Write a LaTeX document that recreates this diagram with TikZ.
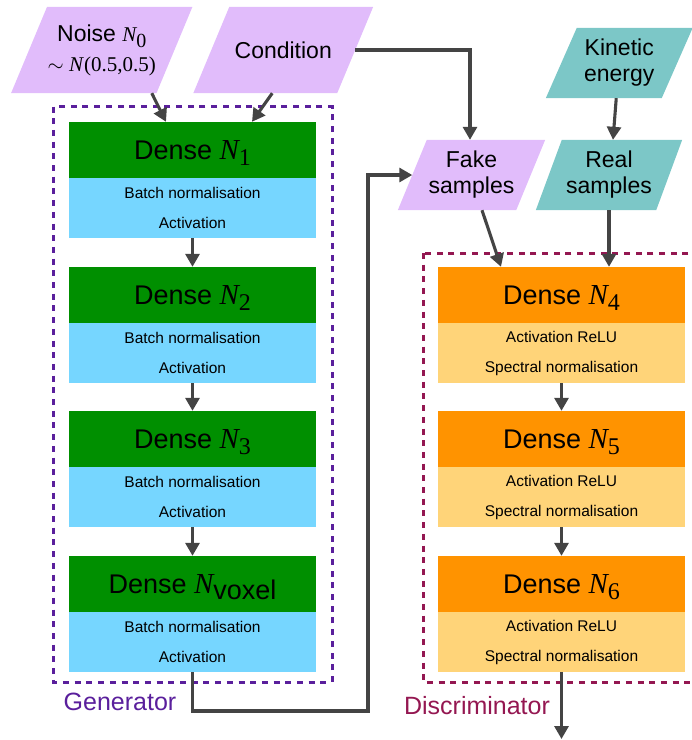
\documentclass[tikz,border=0pt]{standalone}
\usepackage{fontspec}
\setsansfont{Liberation Sans}
\newfontfamily\nfont{Liberation Serif}
\usetikzlibrary{arrows.meta}
\pgfdeclarelayer{bg}
\pgfsetlayers{bg,main}

\definecolor{clover}{HTML}{008F00}
\definecolor{sky}{HTML}{76D6FF}
\definecolor{tangerine}{HTML}{FF9300}
\definecolor{cantaloupe}{HTML}{FFD479}
\definecolor{lavender}{HTML}{E1BCFB}
\definecolor{teal}{HTML}{7CC7C7}
\definecolor{grape}{HTML}{5A1F9C}
\definecolor{maroon}{HTML}{941751}
\definecolor{wire}{HTML}{444444}

% N with a subscript: size of N, size of subscript, drop, subscript
\newcommand\nsym[4]{{\nfont\itshape\fontsize{#1}{#1}\selectfont N}\raisebox{#3}{\fontsize{#2}{#2}\selectfont #4}}
\newcommand\denseN[1]{\nsym{29}{24}{-6pt}{\nfont #1}}
% slanted fill behind a label node
\newcommand\paraFill[3]{\fill[#3] ([xshift=-#2]#1.south west) -- ([xshift=-#2]#1.south east) -- ([xshift=#2]#1.north east) -- ([xshift=#2]#1.north west) -- cycle;}

\tikzset{
        dense/.style={minimum width=247pt, minimum height=56pt, inner sep=0pt, text depth=0pt, font=\sffamily\fontsize{27}{27}\selectfont},
        sub/.style={minimum width=247pt, minimum height=60pt, inner sep=0pt, align=center, font=\sffamily\fontsize{15.5}{30}\selectfont},
        para/.style={inner sep=0pt, align=center, font=\sffamily\fontsize{23}{26}\selectfont},
        arr/.style={draw=wire, line width=3.1pt, -{Triangle[length=13pt,width=14pt]}},
        groupbox/.style={line width=3pt, dash pattern=on 6pt off 5.7pt},
        grouplabel/.style={font=\sffamily\fontsize{25}{25}\selectfont}
}

\begin{document}
\begin{tikzpicture}[x=1pt,y=-1pt]
        \useasboundingbox (0,0) rectangle (692,740);

        % inputs
        \node (noise) [para, minimum width=145pt, minimum height=86pt] at (101.75,50) {Noise \nsym{21}{20}{-6pt}{\nfont 0}\\[4pt]{\nfont\fontsize{21}{21}\selectfont $\sim$ \textit{N}(0.5,0.5)}};
        \node (cond) [para, minimum width=143.5pt, minimum height=86pt] at (283.25,50) {Condition};
        \node (kin) [para, minimum width=115.5pt, minimum height=70pt] at (619.25,63) {Kinetic\\energy};
        \node (fake) [para, minimum width=118pt, minimum height=70pt] at (471.5,175) {Fake\\samples};
        \node (real) [para, minimum width=120pt, minimum height=70pt] at (609,175) {Real\\samples};

        % generator
        \node (gN1) [dense, fill=clover] at (192.5,150) {Dense \denseN{1}};
        \node (gB1) [sub, fill=sky] at (192.5,208) {Batch normalisation\\Activation};
        \node (gN2) [dense, fill=clover] at (192.5,295) {Dense \denseN{2}};
        \node (gB2) [sub, fill=sky] at (192.5,353) {Batch normalisation\\Activation};
        \node (gN3) [dense, fill=clover] at (192.5,439) {Dense \denseN{3}};
        \node (gB3) [sub, fill=sky] at (192.5,497) {Batch normalisation\\Activation};
        \node (gNv) [dense, fill=clover] at (192.5,584) {Dense \nsym{29}{27}{-6pt}{voxel}};
        \node (gBv) [sub, fill=sky] at (192.5,642) {Batch normalisation\\Activation};

        % discriminator
        \node (dN4) [dense, fill=tangerine] at (561.5,295) {Dense \denseN{4}};
        \node (dB4) [sub, fill=cantaloupe] at (561.5,353) {Activation ReLU\\Spectral normalisation};
        \node (dN5) [dense, fill=tangerine] at (561.5,439) {Dense \denseN{5}};
        \node (dB5) [sub, fill=cantaloupe] at (561.5,497) {Activation ReLU\\Spectral normalisation};
        \node (dN6) [dense, fill=tangerine] at (561.5,584) {Dense \denseN{6}};
        \node (dB6) [sub, fill=cantaloupe] at (561.5,642) {Activation ReLU\\Spectral normalisation};

        \node (genlabel) [grouplabel, text=grape] at (120,702) {Generator};
        \node (dislabel) [grouplabel, text=maroon] at (477,706) {Discriminator};

        \coordinate (loop) at (368,711);
        \coordinate (out) at (561.5,739);

        \begin{pgfonlayer}{bg}
                \paraFill{noise}{18pt}{lavender}
                \paraFill{cond}{18pt}{lavender}
                \paraFill{fake}{14.5pt}{lavender}
                \paraFill{real}{13pt}{teal}
                \paraFill{kin}{15.5pt}{teal}
                \draw [groupbox, draw=grape] (53.5,106.5) rectangle (332,682);
                \draw [groupbox, draw=maroon] (423,253) rectangle (700,682);
        \end{pgfonlayer}

        \draw ([xshift=50pt]noise.south) edge [arr] ([xshift=-26.5pt]gN1.north);
        \draw ([xshift=-11pt]cond.south) edge [arr] ([xshift=59.5pt]gN1.north);
        \draw (gB1) edge [arr] (gN2);
        \draw (gB2) edge [arr] (gN3);
        \draw (gB3) edge [arr] (gNv);
        \draw [arr] (gBv.south) |- (loop) |- (fake.west);
        \draw [arr] (cond.east) -| ([xshift=-1.5pt]fake.north);
        \draw ([xshift=-3pt]kin.south) edge [arr] ([xshift=4pt]real.north);
        \draw ([xshift=10.5pt]fake.south) edge [arr] ([xshift=-60.5pt]dN4.north);
        \draw (real.south) edge [arr] (real.south |- dN4.north);
        \draw (dB4) edge [arr] (dN5);
        \draw (dB5) edge [arr] (dN6);
        \draw (dB6) edge [arr] (out);
\end{tikzpicture}
\end{document}
